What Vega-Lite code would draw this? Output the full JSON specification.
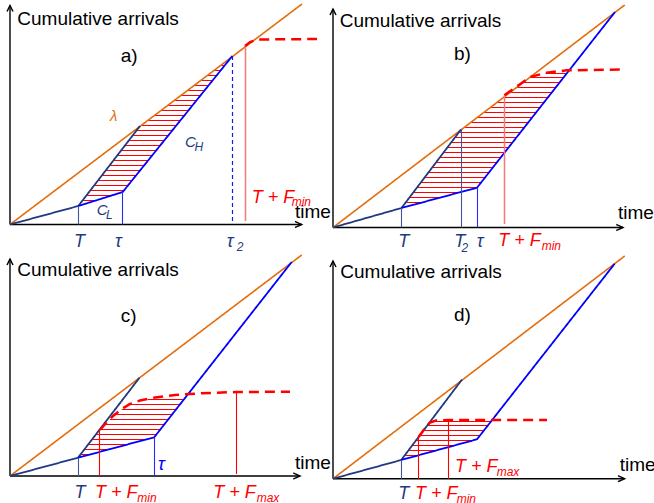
{
"$schema": "https://vega.github.io/schema/vega-lite/v6.json",
"padding": 0,
"background": "white",
"data": {"values": [
{"p":"a","g":"path","id":"a1","k":"axis","i":0,"t":0,"n":1.5},{"p":"a","g":"path","id":"a1","k":"axis","i":1,"t":0,"n":220.5},
{"p":"a","g":"path","id":"a2","k":"axis","i":0,"t":-3,"n":214.5},{"p":"a","g":"path","id":"a2","k":"axis","i":1,"t":0,"n":220.5},{"p":"a","g":"path","id":"a2","k":"axis","i":2,"t":3,"n":214.5},
{"p":"a","g":"path","id":"a3","k":"axis","i":0,"t":0,"n":1.5},{"p":"a","g":"path","id":"a3","k":"axis","i":1,"t":291.7,"n":1.5},
{"p":"a","g":"path","id":"a4","k":"axis","i":0,"t":285,"n":4.5},{"p":"a","g":"path","id":"a4","k":"axis","i":1,"t":291.7,"n":1.5},{"p":"a","g":"path","id":"a4","k":"axis","i":2,"t":285,"n":-1.5},
{"p":"a","g":"path","id":"a5","k":"demand","i":0,"t":0,"n":1.5},{"p":"a","g":"path","id":"a5","k":"demand","i":1,"t":292,"n":222},
{"p":"a","g":"path","id":"a6","k":"lowcap","i":0,"t":0,"n":1.5},{"p":"a","g":"path","id":"a6","k":"lowcap","i":1,"t":68.3,"n":20},{"p":"a","g":"path","id":"a6","k":"lowcap","i":2,"t":130,"n":100},
{"p":"a","g":"path","id":"a7","k":"highcap","i":0,"t":68.3,"n":20},{"p":"a","g":"path","id":"a7","k":"highcap","i":1,"t":112.7,"n":34},{"p":"a","g":"path","id":"a7","k":"highcap","i":2,"t":222.3,"n":170},
{"p":"a","g":"path","id":"a8","k":"markerT","i":0,"t":68.5,"n":20},{"p":"a","g":"path","id":"a8","k":"markerT","i":1,"t":68.5,"n":1.5},
{"p":"a","g":"path","id":"a9","k":"markerTau","i":0,"t":112.5,"n":34},{"p":"a","g":"path","id":"a9","k":"markerTau","i":1,"t":112.5,"n":1.5},
{"p":"a","g":"path","id":"a10","k":"markerTau2","i":0,"t":222.5,"n":170},{"p":"a","g":"path","id":"a10","k":"markerTau2","i":1,"t":222.5,"n":3},
{"p":"a","g":"path","id":"a11","k":"markerFlight","i":0,"t":235.5,"n":180},{"p":"a","g":"path","id":"a11","k":"markerFlight","i":1,"t":235.5,"n":5},
{"p":"a","g":"path","id":"a12","k":"flow","i":0,"t":235,"n":180},{"p":"a","g":"path","id":"a12","k":"flow","i":1,"t":240,"n":184},{"p":"a","g":"path","id":"a12","k":"flow","i":2,"t":248,"n":186.5},{"p":"a","g":"path","id":"a12","k":"flow","i":3,"t":307,"n":187},

{"p":"b","g":"path","id":"b1","k":"axis","i":0,"t":0,"n":-1.5},{"p":"b","g":"path","id":"b1","k":"axis","i":1,"t":0,"n":217},
{"p":"b","g":"path","id":"b2","k":"axis","i":0,"t":-3,"n":211},{"p":"b","g":"path","id":"b2","k":"axis","i":1,"t":0,"n":217},{"p":"b","g":"path","id":"b2","k":"axis","i":2,"t":3,"n":211},
{"p":"b","g":"path","id":"b3","k":"axis","i":0,"t":0,"n":-1.5},{"p":"b","g":"path","id":"b3","k":"axis","i":1,"t":290,"n":-1.5},
{"p":"b","g":"path","id":"b4","k":"axis","i":0,"t":283.3,"n":1.5},{"p":"b","g":"path","id":"b4","k":"axis","i":1,"t":290,"n":-1.5},{"p":"b","g":"path","id":"b4","k":"axis","i":2,"t":283.3,"n":-4.5},
{"p":"b","g":"path","id":"b5","k":"demand","i":0,"t":0,"n":-1.5},{"p":"b","g":"path","id":"b5","k":"demand","i":1,"t":291.7,"n":221},
{"p":"b","g":"path","id":"b6","k":"lowcap","i":0,"t":0,"n":-1.5},{"p":"b","g":"path","id":"b6","k":"lowcap","i":1,"t":68.5,"n":18},{"p":"b","g":"path","id":"b6","k":"lowcap","i":2,"t":128,"n":96.5},
{"p":"b","g":"path","id":"b7","k":"highcap","i":0,"t":68.5,"n":18},{"p":"b","g":"path","id":"b7","k":"highcap","i":1,"t":144,"n":38.3},{"p":"b","g":"path","id":"b7","k":"highcap","i":2,"t":282,"n":214},
{"p":"b","g":"path","id":"b8","k":"markerT","i":0,"t":68.5,"n":18},{"p":"b","g":"path","id":"b8","k":"markerT","i":1,"t":68.5,"n":-1.5},
{"p":"b","g":"path","id":"b9","k":"markerT","i":0,"t":128.5,"n":96.5},{"p":"b","g":"path","id":"b9","k":"markerT","i":1,"t":128.5,"n":-1.5},
{"p":"b","g":"path","id":"b10","k":"markerTau","i":0,"t":144.5,"n":38.3},{"p":"b","g":"path","id":"b10","k":"markerTau","i":1,"t":144.5,"n":-1.5},
{"p":"b","g":"path","id":"b11","k":"markerFlight","i":0,"t":171.5,"n":130},{"p":"b","g":"path","id":"b11","k":"markerFlight","i":1,"t":171.5,"n":2},
{"p":"b","g":"path","id":"b12","k":"flow","i":0,"t":171.3,"n":130.7},{"p":"b","g":"path","id":"b12","k":"flow","i":1,"t":187,"n":141.7},{"p":"b","g":"path","id":"b12","k":"flow","i":2,"t":197,"n":149},{"p":"b","g":"path","id":"b12","k":"flow","i":3,"t":213.7,"n":153.3},{"p":"b","g":"path","id":"b12","k":"flow","i":4,"t":233.7,"n":155.7},{"p":"b","g":"path","id":"b12","k":"flow","i":5,"t":292,"n":156.5},

{"p":"c","g":"path","id":"c1","k":"axis","i":0,"t":0,"n":1},{"p":"c","g":"path","id":"c1","k":"axis","i":1,"t":0,"n":218},
{"p":"c","g":"path","id":"c2","k":"axis","i":0,"t":-3,"n":212},{"p":"c","g":"path","id":"c2","k":"axis","i":1,"t":0,"n":218},{"p":"c","g":"path","id":"c2","k":"axis","i":2,"t":3,"n":212},
{"p":"c","g":"path","id":"c3","k":"axis","i":0,"t":0,"n":1},{"p":"c","g":"path","id":"c3","k":"axis","i":1,"t":290,"n":1},
{"p":"c","g":"path","id":"c4","k":"axis","i":0,"t":283.3,"n":4},{"p":"c","g":"path","id":"c4","k":"axis","i":1,"t":290,"n":1},{"p":"c","g":"path","id":"c4","k":"axis","i":2,"t":283.3,"n":-2},
{"p":"c","g":"path","id":"c5","k":"demand","i":0,"t":0,"n":1},{"p":"c","g":"path","id":"c5","k":"demand","i":1,"t":291.7,"n":222},
{"p":"c","g":"path","id":"c6","k":"lowcap","i":0,"t":0,"n":1},{"p":"c","g":"path","id":"c6","k":"lowcap","i":1,"t":68,"n":19.3},{"p":"c","g":"path","id":"c6","k":"lowcap","i":2,"t":129.5,"n":99.3},
{"p":"c","g":"path","id":"c7","k":"highcap","i":0,"t":68,"n":19.3},{"p":"c","g":"path","id":"c7","k":"highcap","i":1,"t":144.2,"n":39.7},{"p":"c","g":"path","id":"c7","k":"highcap","i":2,"t":281.7,"n":215},
{"p":"c","g":"path","id":"c8","k":"markerT","i":0,"t":68.5,"n":19.3},{"p":"c","g":"path","id":"c8","k":"markerT","i":1,"t":68.5,"n":1},
{"p":"c","g":"path","id":"c9","k":"markerF","i":0,"t":89.5,"n":47},{"p":"c","g":"path","id":"c9","k":"markerF","i":1,"t":89.5,"n":1},
{"p":"c","g":"path","id":"c10","k":"markerTau","i":0,"t":144.5,"n":39.7},{"p":"c","g":"path","id":"c10","k":"markerTau","i":1,"t":144.5,"n":1},
{"p":"c","g":"path","id":"c11","k":"markerF","i":0,"t":226.5,"n":85.5},{"p":"c","g":"path","id":"c11","k":"markerF","i":1,"t":226.5,"n":3},
{"p":"c","g":"path","id":"c12","k":"flow","i":0,"t":90,"n":47},{"p":"c","g":"path","id":"c12","k":"flow","i":1,"t":96,"n":54},{"p":"c","g":"path","id":"c12","k":"flow","i":2,"t":103,"n":61},{"p":"c","g":"path","id":"c12","k":"flow","i":3,"t":111,"n":67.5},{"p":"c","g":"path","id":"c12","k":"flow","i":4,"t":120,"n":73},{"p":"c","g":"path","id":"c12","k":"flow","i":5,"t":130,"n":76.5},{"p":"c","g":"path","id":"c12","k":"flow","i":6,"t":145,"n":79.5},{"p":"c","g":"path","id":"c12","k":"flow","i":7,"t":165,"n":82},{"p":"c","g":"path","id":"c12","k":"flow","i":8,"t":190,"n":83.7},{"p":"c","g":"path","id":"c12","k":"flow","i":9,"t":226.7,"n":85},{"p":"c","g":"path","id":"c12","k":"flow","i":10,"t":280,"n":85.3},

{"p":"d","g":"path","id":"d1","k":"axis","i":0,"t":0,"n":-1.7},{"p":"d","g":"path","id":"d1","k":"axis","i":1,"t":0,"n":216},
{"p":"d","g":"path","id":"d2","k":"axis","i":0,"t":-3,"n":210},{"p":"d","g":"path","id":"d2","k":"axis","i":1,"t":0,"n":216},{"p":"d","g":"path","id":"d2","k":"axis","i":2,"t":3,"n":210},
{"p":"d","g":"path","id":"d3","k":"axis","i":0,"t":0,"n":-1.7},{"p":"d","g":"path","id":"d3","k":"axis","i":1,"t":291.7,"n":-1.7},
{"p":"d","g":"path","id":"d4","k":"axis","i":0,"t":285,"n":1.3},{"p":"d","g":"path","id":"d4","k":"axis","i":1,"t":291.7,"n":-1.7},{"p":"d","g":"path","id":"d4","k":"axis","i":2,"t":285,"n":-4.7},
{"p":"d","g":"path","id":"d5","k":"demand","i":0,"t":0,"n":-1.7},{"p":"d","g":"path","id":"d5","k":"demand","i":1,"t":291.7,"n":221},
{"p":"d","g":"path","id":"d6","k":"lowcap","i":0,"t":0,"n":-1.7},{"p":"d","g":"path","id":"d6","k":"lowcap","i":1,"t":68.2,"n":17},{"p":"d","g":"path","id":"d6","k":"lowcap","i":2,"t":129,"n":97.5},
{"p":"d","g":"path","id":"d7","k":"highcap","i":0,"t":68.2,"n":17},{"p":"d","g":"path","id":"d7","k":"highcap","i":1,"t":144,"n":37.7},{"p":"d","g":"path","id":"d7","k":"highcap","i":2,"t":281.7,"n":213.3},
{"p":"d","g":"path","id":"d8","k":"markerT","i":0,"t":68.5,"n":17},{"p":"d","g":"path","id":"d8","k":"markerT","i":1,"t":68.5,"n":-1.7},
{"p":"d","g":"path","id":"d9","k":"markerF","i":0,"t":85.5,"n":40.5},{"p":"d","g":"path","id":"d9","k":"markerF","i":1,"t":85.5,"n":-1.7},
{"p":"d","g":"path","id":"d10","k":"markerF","i":0,"t":115.5,"n":57.3},{"p":"d","g":"path","id":"d10","k":"markerF","i":1,"t":115.5,"n":-1.7},
{"p":"d","g":"path","id":"d11","k":"flow","i":0,"t":85.5,"n":40},{"p":"d","g":"path","id":"d11","k":"flow","i":1,"t":93,"n":50},{"p":"d","g":"path","id":"d11","k":"flow","i":2,"t":97,"n":54.5},{"p":"d","g":"path","id":"d11","k":"flow","i":3,"t":103,"n":56.5},{"p":"d","g":"path","id":"d11","k":"flow","i":4,"t":115,"n":57},{"p":"d","g":"path","id":"d11","k":"flow","i":5,"t":214,"n":57},

{"p":"a","g":"hatch","t":72.9,"t2":87.3,"n":25.5},{"p":"a","g":"hatch","t":76.8,"t2":103.2,"n":30.5},{"p":"a","g":"hatch","t":80.6,"t2":114.3,"n":35.5},{"p":"a","g":"hatch","t":84.5,"t2":118.3,"n":40.5},{"p":"a","g":"hatch","t":88.3,"t2":122.4,"n":45.5},{"p":"a","g":"hatch","t":92.2,"t2":126.4,"n":50.5},{"p":"a","g":"hatch","t":96.1,"t2":130.4,"n":55.5},{"p":"a","g":"hatch","t":99.9,"t2":134.5,"n":60.5},{"p":"a","g":"hatch","t":103.8,"t2":138.5,"n":65.5},{"p":"a","g":"hatch","t":107.6,"t2":142.5,"n":70.5},{"p":"a","g":"hatch","t":111.5,"t2":146.5,"n":75.5},{"p":"a","g":"hatch","t":115.3,"t2":150.6,"n":80.5},{"p":"a","g":"hatch","t":119.2,"t2":154.6,"n":85.5},{"p":"a","g":"hatch","t":123,"t2":158.6,"n":90.5},{"p":"a","g":"hatch","t":126.9,"t2":162.7,"n":95.5},{"p":"a","g":"hatch","t":131.8,"t2":166.7,"n":100.5},{"p":"a","g":"hatch","t":138.4,"t2":170.7,"n":105.5},{"p":"a","g":"hatch","t":145,"t2":174.7,"n":110.5},{"p":"a","g":"hatch","t":151.7,"t2":178.8,"n":115.5},{"p":"a","g":"hatch","t":158.3,"t2":182.8,"n":120.5},{"p":"a","g":"hatch","t":164.9,"t2":186.8,"n":125.5},{"p":"a","g":"hatch","t":171.5,"t2":190.9,"n":130.5},{"p":"a","g":"hatch","t":178.1,"t2":194.9,"n":135.5},{"p":"a","g":"hatch","t":184.8,"t2":198.9,"n":140.5},{"p":"a","g":"hatch","t":191.4,"t2":202.9,"n":145.5},{"p":"a","g":"hatch","t":198,"t2":207,"n":150.5},{"p":"a","g":"hatch","t":204.6,"t2":211,"n":155.5},{"p":"a","g":"hatch","t":211.3,"t2":215,"n":160.5},

{"p":"b","g":"hatch","t":73,"t2":90.8,"n":23.5},{"p":"b","g":"hatch","t":76.8,"t2":109.4,"n":28.5},{"p":"b","g":"hatch","t":80.6,"t2":128,"n":33.5},{"p":"b","g":"hatch","t":84.4,"t2":144.5,"n":38.5},{"p":"b","g":"hatch","t":88.2,"t2":148.5,"n":43.5},{"p":"b","g":"hatch","t":92,"t2":152.4,"n":48.5},{"p":"b","g":"hatch","t":95.8,"t2":156.4,"n":53.5},{"p":"b","g":"hatch","t":99.6,"t2":160.3,"n":58.5},{"p":"b","g":"hatch","t":103.4,"t2":164.2,"n":63.5},{"p":"b","g":"hatch","t":107.2,"t2":168.1,"n":68.5},{"p":"b","g":"hatch","t":111,"t2":172.1,"n":73.5},{"p":"b","g":"hatch","t":114.8,"t2":176,"n":78.5},{"p":"b","g":"hatch","t":118.6,"t2":179.9,"n":83.5},{"p":"b","g":"hatch","t":122.4,"t2":183.9,"n":88.5},{"p":"b","g":"hatch","t":126.2,"t2":187.8,"n":93.5},{"p":"b","g":"hatch","t":131.7,"t2":191.7,"n":98.5},{"p":"b","g":"hatch","t":138.3,"t2":195.7,"n":103.5},{"p":"b","g":"hatch","t":144.8,"t2":199.6,"n":108.5},{"p":"b","g":"hatch","t":151.4,"t2":203.5,"n":113.5},{"p":"b","g":"hatch","t":157.9,"t2":207.5,"n":118.5},{"p":"b","g":"hatch","t":164.5,"t2":211.4,"n":123.5},{"p":"b","g":"hatch","t":171,"t2":215.3,"n":128.5},{"p":"b","g":"hatch","t":176,"t2":219.2,"n":133.5},{"p":"b","g":"hatch","t":183.1,"t2":223.2,"n":138.5},{"p":"b","g":"hatch","t":190.2,"t2":227.1,"n":143.5},{"p":"b","g":"hatch","t":197,"t2":231,"n":148.5},{"p":"b","g":"hatch","t":212.5,"t2":234.2,"n":152.5},

{"p":"c","g":"hatch","t":70.8,"t2":81.8,"n":22.5},{"p":"c","g":"hatch","t":74.7,"t2":100.5,"n":27.5},{"p":"c","g":"hatch","t":78.5,"t2":119.2,"n":32.5},{"p":"c","g":"hatch","t":82.4,"t2":137.8,"n":37.5},{"p":"c","g":"hatch","t":86.2,"t2":146.8,"n":42.5},{"p":"c","g":"hatch","t":90.9,"t2":150.7,"n":47.5},{"p":"c","g":"hatch","t":95.1,"t2":154.6,"n":52.5},{"p":"c","g":"hatch","t":100,"t2":158.5,"n":57.5},{"p":"c","g":"hatch","t":105.5,"t2":162.4,"n":62.5},{"p":"c","g":"hatch","t":111.8,"t2":166.4,"n":67.5},{"p":"c","g":"hatch","t":120,"t2":170.3,"n":72.5},{"p":"c","g":"hatch","t":137.5,"t2":174.2,"n":77.5},

{"p":"d","g":"hatch","t":72,"t2":86.5,"n":21.5},{"p":"d","g":"hatch","t":75.8,"t2":104.8,"n":26.5},{"p":"d","g":"hatch","t":79.5,"t2":123.1,"n":31.5},{"p":"d","g":"hatch","t":83.3,"t2":141.4,"n":36.5},{"p":"d","g":"hatch","t":87.1,"t2":147.4,"n":41.5},{"p":"d","g":"hatch","t":90.9,"t2":151.3,"n":46.5},{"p":"d","g":"hatch","t":94.7,"t2":155.2,"n":51.5},{"p":"d","g":"hatch","t":97.7,"t2":158.4,"n":55.5},

{"p":"a","g":"title","k":"axis","label":"Cumulative arrivals","t":7.3,"n":201},{"p":"a","g":"title","k":"axis","label":"a)","t":110.7,"n":164},{"p":"a","g":"title","k":"axis","label":"time","t":285,"n":8.3},
{"p":"a","g":"sym","k":"lowcap","label":"T","t":64,"n":-20.5},{"p":"a","g":"sym","k":"lowcap","label":"τ","t":105,"n":-20.5},{"p":"a","g":"sym","k":"lowcap","label":"τ","t":216.7,"n":-20.5},{"p":"a","g":"sym","k":"flow","label":"T + F","t":241.7,"n":23.5},
{"p":"a","g":"small","k":"demand","label":"λ","t":100,"n":105},{"p":"a","g":"small","k":"lowcap","label":"C","t":175,"n":79},{"p":"a","g":"small","k":"lowcap","label":"C","t":86.7,"n":11},
{"p":"a","g":"sub","k":"lowcap","label":"H","t":184.5,"n":75},{"p":"a","g":"sub","k":"lowcap","label":"L","t":96,"n":7.5},{"p":"a","g":"sub","k":"lowcap","label":"2","t":226.7,"n":-25},{"p":"a","g":"sub","k":"flow","label":"min","t":281.7,"n":20},

{"p":"b","g":"title","k":"axis","label":"Cumulative arrivals","t":6.7,"n":199},{"p":"b","g":"title","k":"axis","label":"b)","t":121,"n":166},{"p":"b","g":"title","k":"axis","label":"time","t":285,"n":6.7},
{"p":"b","g":"sym","k":"lowcap","label":"T","t":65.3,"n":-21},{"p":"b","g":"sym","k":"lowcap","label":"T","t":121.3,"n":-21},{"p":"b","g":"sym","k":"lowcap","label":"τ","t":143.7,"n":-21},{"p":"b","g":"sym","k":"flow","label":"T + F","t":165.3,"n":-20},
{"p":"b","g":"sub","k":"lowcap","label":"2","t":128.5,"n":-26},{"p":"b","g":"sub","k":"flow","label":"min","t":208.7,"n":-24},

{"p":"c","g":"title","k":"axis","label":"Cumulative arrivals","t":7.3,"n":201},{"p":"c","g":"title","k":"axis","label":"c)","t":110.7,"n":155.5},{"p":"c","g":"title","k":"axis","label":"time","t":285,"n":8},
{"p":"c","g":"sym","k":"highcap","label":"τ","t":148,"n":7},{"p":"c","g":"sym","k":"lowcap","label":"T","t":64.5,"n":-21},{"p":"c","g":"sym","k":"flow","label":"T + F","t":85,"n":-21},{"p":"c","g":"sym","k":"flow","label":"T + F","t":203.3,"n":-21},
{"p":"c","g":"sub","k":"flow","label":"min","t":127.3,"n":-24.5},{"p":"c","g":"sub","k":"flow","label":"max","t":246.7,"n":-24.5},

{"p":"d","g":"title","k":"axis","label":"Cumulative arrivals","t":7.3,"n":199.3},{"p":"d","g":"title","k":"axis","label":"d)","t":121,"n":156},{"p":"d","g":"title","k":"axis","label":"time","t":286.7,"n":6},
{"p":"d","g":"sym","k":"lowcap","label":"T","t":65.3,"n":-22.3},{"p":"d","g":"sym","k":"flow","label":"T + F","t":82,"n":-22},{"p":"d","g":"sym","k":"flow","label":"T + F","t":122,"n":5.3},
{"p":"d","g":"sub","k":"flow","label":"min","t":123.7,"n":-25.5},{"p":"d","g":"sub","k":"flow","label":"max","t":163.7,"n":1}
]},
"facet": {"field": "p", "type": "nominal", "title": null, "header": {"labels": false, "title": null, "labelFontSize": 0, "labelPadding": 0, "labelExpr": "''", "titlePadding": 0}},
"columns": 2,
"spacing": 0,
"bounds": "flush",
"spec": {
"width": 323,
"height": 251,
"layer": [
{
"transform": [{"filter": "datum.g === 'hatch'"}],
"mark": {"type": "rule", "color": "#FF0000", "strokeWidth": 1},
"encoding": {
"x": {"field": "t", "type": "quantitative", "scale": {"domain": [-10, 313], "nice": false, "zero": false}, "axis": null},
"x2": {"field": "t2"},
"y": {"field": "n", "type": "quantitative", "scale": {"domain": [-26, 225], "nice": false, "zero": false}, "axis": null}
}
},
{
"transform": [{"filter": "datum.g === 'path'"}],
"mark": {"type": "line", "strokeCap": "butt"},
"encoding": {
"x": {"field": "t", "type": "quantitative", "scale": {"domain": [-10, 313], "nice": false, "zero": false}, "axis": null},
"y": {"field": "n", "type": "quantitative", "scale": {"domain": [-26, 225], "nice": false, "zero": false}, "axis": null},
"detail": {"field": "id"},
"order": {"field": "i", "type": "quantitative"},
"color": {"field": "k", "type": "nominal", "legend": null, "scale": {"domain": ["axis","demand","lowcap","highcap","markerT","markerTau","markerTau2","markerF","markerFlight","flow"], "range": ["#000000","#E46C0A","#1F3A80","#0000FF","#42549A","#2A2AFF","#1A1AE6","#FF0000","#F47A7A","#FF0000"]}},
"strokeWidth": {"field": "k", "type": "nominal", "legend": null, "scale": {"type": "ordinal", "domain": ["axis","demand","lowcap","highcap","markerT","markerTau","markerTau2","markerF","markerFlight","flow"], "range": [1.4,1.6,1.8,1.8,1.1,1.1,1.2,1.1,1.5,2.5]}},
"strokeDash": {"field": "k", "type": "nominal", "legend": null, "scale": {"domain": ["axis","demand","lowcap","highcap","markerT","markerTau","markerTau2","markerF","markerFlight","flow"], "range": [[1,0],[1,0],[1,0],[1,0],[1,0],[1,0],[4,3],[1,0],[1,0],[10,6]]}}
}
},
{
"transform": [{"filter": "datum.g === 'title'"}],
"mark": {"type": "text", "font": "Liberation Sans", "fontSize": 19, "align": "left", "baseline": "alphabetic", "color": "#000000"},
"encoding": {
"x": {"field": "t", "type": "quantitative", "scale": {"domain": [-10, 313], "nice": false, "zero": false}, "axis": null},
"y": {"field": "n", "type": "quantitative", "scale": {"domain": [-26, 225], "nice": false, "zero": false}, "axis": null},
"text": {"field": "label"}
}
},
{
"transform": [{"filter": "datum.g === 'sym'"}],
"mark": {"type": "text", "font": "Liberation Sans", "fontSize": 18, "fontStyle": "italic", "align": "left", "baseline": "alphabetic"},
"encoding": {
"x": {"field": "t", "type": "quantitative", "scale": {"domain": [-10, 313], "nice": false, "zero": false}, "axis": null},
"y": {"field": "n", "type": "quantitative", "scale": {"domain": [-26, 225], "nice": false, "zero": false}, "axis": null},
"text": {"field": "label"},
"color": {"field": "k", "type": "nominal", "legend": null, "scale": {"domain": ["axis","demand","lowcap","highcap","markerT","markerTau","markerTau2","markerF","markerFlight","flow"], "range": ["#000000","#E46C0A","#1F3A80","#0000FF","#42549A","#2A2AFF","#1A1AE6","#FF0000","#F47A7A","#FF0000"]}}
}
},
{
"transform": [{"filter": "datum.g === 'small'"}],
"mark": {"type": "text", "font": "Liberation Sans", "fontSize": 15, "fontStyle": "italic", "align": "left", "baseline": "alphabetic"},
"encoding": {
"x": {"field": "t", "type": "quantitative", "scale": {"domain": [-10, 313], "nice": false, "zero": false}, "axis": null},
"y": {"field": "n", "type": "quantitative", "scale": {"domain": [-26, 225], "nice": false, "zero": false}, "axis": null},
"text": {"field": "label"},
"color": {"field": "k", "type": "nominal", "legend": null, "scale": {"domain": ["axis","demand","lowcap","highcap","markerT","markerTau","markerTau2","markerF","markerFlight","flow"], "range": ["#000000","#E46C0A","#1F3A80","#0000FF","#42549A","#2A2AFF","#1A1AE6","#FF0000","#F47A7A","#FF0000"]}}
}
},
{
"transform": [{"filter": "datum.g === 'sub'"}],
"mark": {"type": "text", "font": "Liberation Sans", "fontSize": 12, "fontStyle": "italic", "align": "left", "baseline": "alphabetic"},
"encoding": {
"x": {"field": "t", "type": "quantitative", "scale": {"domain": [-10, 313], "nice": false, "zero": false}, "axis": null},
"y": {"field": "n", "type": "quantitative", "scale": {"domain": [-26, 225], "nice": false, "zero": false}, "axis": null},
"text": {"field": "label"},
"color": {"field": "k", "type": "nominal", "legend": null, "scale": {"domain": ["axis","demand","lowcap","highcap","markerT","markerTau","markerTau2","markerF","markerFlight","flow"], "range": ["#000000","#E46C0A","#1F3A80","#0000FF","#42549A","#2A2AFF","#1A1AE6","#FF0000","#F47A7A","#FF0000"]}}
}
}
]
},
"config": {"view": {"stroke": null}, "header": {"labels": false, "title": null, "labelFontSize": 0, "labelPadding": 0}}
}
